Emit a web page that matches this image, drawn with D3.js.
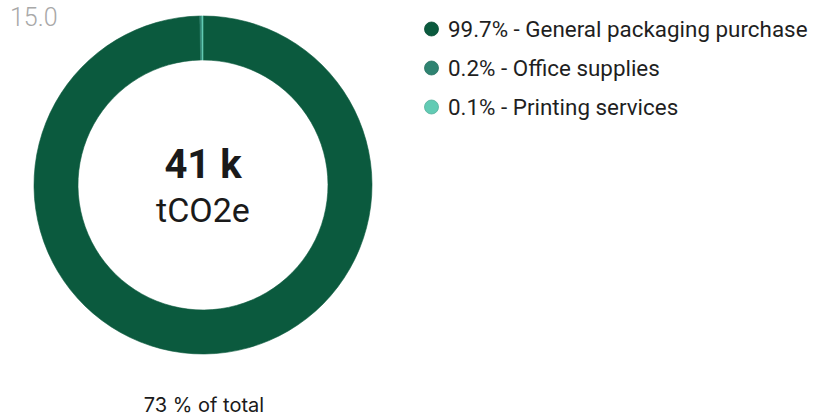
<!DOCTYPE html>
<html>
<head>
<meta charset="utf-8">
<script src="https://cdn.jsdelivr.net/npm/d3@7"></script>
<style>
  html, body { margin: 0; padding: 0; background: #fff; }
  svg { display: block; }
</style>
</head>
<body>
<svg id="chart" width="813" height="417"></svg>
<script>
// Emission categories and their share of the total (percent)
const categories = ["General packaging purchase", "Office supplies", "Printing services"];
const shares = [99.7, 0.2, 0.1];
const colors = ["#0b5a3e", "#2f8371", "#62cbb4"];
const totalLabel = "41 k";
const unitLabel = "tCO2e";
const scaleLabel = "15.0";
const footerLabel = "73 % of total";

const svg = d3.select("#chart");
const cx = 203, cy = 185, outerR = 169, innerR = 125;

const color = d3.scaleOrdinal().domain(categories).range(colors);
const data = categories.map((c, i) => ({ name: c, value: shares[i] }));

const pie = d3.pie().value(d => d.value).sort(null);
const arc = d3.arc().innerRadius(innerR).outerRadius(outerR);

const g = svg.append("g").attr("transform", `translate(${cx},${cy})`);
g.selectAll("path")
  .data(pie(data))
  .join("path")
  .attr("d", arc)
  .attr("fill", d => color(d.data.name))
  .attr("stroke", d => color(d.data.name))
  .attr("stroke-width", 0.6);

// Centre total
g.append("text")
  .attr("text-anchor", "middle")
  .attr("y", -7)
  .attr("font-family", "Roboto, sans-serif")
  .attr("font-weight", 700)
  .attr("font-size", 40)
  .attr("fill", "#1a1a1a")
  .text(totalLabel);
g.append("text")
  .attr("text-anchor", "middle")
  .attr("y", 37)
  .attr("font-family", "Roboto, sans-serif")
  .attr("font-size", 34)
  .attr("fill", "#1a1a1a")
  .text(unitLabel);

// Corner value
svg.append("text")
  .attr("x", 10).attr("y", 26)
  .attr("font-family", "Roboto, sans-serif")
  .attr("font-weight", 300)
  .attr("font-size", 25)
  .attr("fill", "#a8a8a8")
  .text(scaleLabel);

// Footer
svg.append("text")
  .attr("x", cx + 1).attr("y", 412)
  .attr("text-anchor", "middle")
  .attr("font-family", "Inter, sans-serif")
  .attr("font-size", 20)
  .attr("fill", "#1a1a1a")
  .text(footerLabel);

// Legend
const legend = svg.append("g").attr("transform", "translate(431.5,29)");
const rows = legend.selectAll("g")
  .data(data)
  .join("g")
  .attr("transform", (d, i) => `translate(0,${i * 39})`);
rows.append("circle")
  .attr("r", 7)
  .attr("fill", d => color(d.name))
  .attr("stroke", d => d3.color(color(d.name)).darker(0.4))
  .attr("stroke-width", 0.8);
rows.append("text")
  .attr("x", 16.5)
  .attr("dy", "0.36em")
  .attr("font-family", "Roboto, sans-serif")
  .attr("font-size", 22.4)
  .attr("fill", "#1f1f1f")
  .text(d => `${d3.format(".1f")(d.value)}% - ${d.name}`);
</script>
</body>
</html>
